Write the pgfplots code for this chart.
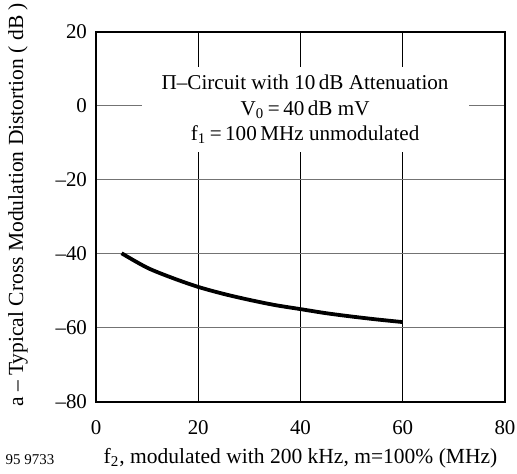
\documentclass[border=0pt]{standalone}
\usepackage{fontspec}
\setmainfont{Liberation Serif}
\usepackage{pgfplots}
\pgfplotsset{compat=1.18}

\begin{document}
\begin{tikzpicture}
% page = reference frame, axis box lower left corner at the origin
\useasboundingbox (-48bp,-36bp) rectangle (210.5bp,201bp);
\begin{axis}[
  at={(0,0)}, anchor=south west,
  scale only axis,
  width=204.5bp, height=185bp,
  xmin=0, xmax=80, ymin=-80, ymax=20,
  xtick={0,20,40,60,80}, ytick={-80,-60,-40,-20,0,20},
  xticklabels={0,20,40,60,80},
  yticklabels={–80,–60,–40,–20,0,20},
  major tick length=0pt,
  axis line style={line width=1.4pt},
  xmajorgrids, ymajorgrids,
  x grid style={black, line width=0.5pt},
  y grid style={black!55, line width=0.5pt},
  tick label style={font=\fontsize{10.5}{12}\selectfont},
  xticklabel style={yshift=-6bp},
  yticklabel style={xshift=-1bp},
  label style={font=\fontsize{10.8}{13}\selectfont},
  xlabel={f\textsubscript{2}, modulated with 200 kHz, m=100\% (MHz)},
  xlabel style={at={(axis description cs:0.5,0)}, anchor=center, yshift=-28bp},
  ylabel={a – Typical Cross Modulation Distortion ( dB )},
  ylabel style={at={(axis description cs:0,0.5)}, anchor=center, xshift=6bp, yshift=39bp},
]
\addplot[black, line width=1.9pt, smooth] coordinates {
  (5,-39.8) (10,-43.7) (15,-46.5) (20,-48.9) (25,-50.8) (30,-52.4)
  (35,-53.8) (40,-54.9) (45,-56.0) (50,-56.9) (55,-57.7) (60,-58.4)
};
\node[fill=white, align=center, inner xsep=10bp, inner ysep=4bp,
      minimum width=162bp, minimum height=42.5bp, font=\fontsize{10.6}{12.6}\selectfont]
  at (axis cs:40.9,-0.9)
  {Π–Circuit with 10\,dB Attenuation\\
   V\textsubscript{0}\,=\,40\,dB mV\\
   f\textsubscript{1}\,=\,100\,MHz unmodulated};
\end{axis}
\node[font=\fontsize{7.5}{9}\selectfont] at (-33bp,-29bp) {95 9733};
\end{tikzpicture}
\end{document}
